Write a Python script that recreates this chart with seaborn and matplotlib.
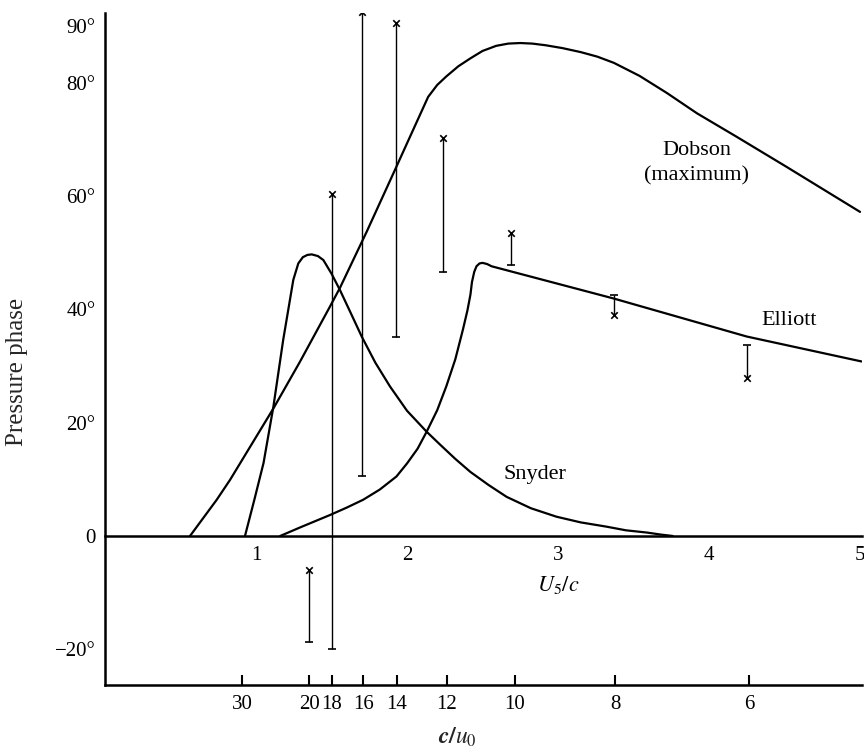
import numpy as np
import pandas as pd
import matplotlib
matplotlib.use("Agg")
import matplotlib.pyplot as plt
import seaborn as sns

# ---- Data (x = U5/c, y = pressure phase, degrees) ----
dobson_x = [0.563, 0.74, 0.828, 1.115, 1.29, 1.49, 1.556, 1.733, 1.92, 2.0, 2.14, 2.20, 2.26, 2.34, 2.42, 2.50, 2.59, 2.67, 2.75, 2.83, 2.92, 3.03, 3.15, 3.26, 3.37, 3.54, 3.72, 3.92, 4.18, 4.51, 5.0]
dobson_y = [0.0, 6.4, 9.9, 22.5, 30.7, 40.5, 43.8, 53.7, 64.6, 69.3, 77.5, 79.6, 81.1, 82.9, 84.3, 85.6, 86.5, 86.9, 87.0, 86.9, 86.6, 86.1, 85.4, 84.6, 83.5, 81.2, 78.2, 74.6, 70.5, 65.2, 57.2]

snyder_x = [0.927, 0.99, 1.05, 1.115, 1.18, 1.247, 1.28, 1.31, 1.34, 1.369, 1.41, 1.446, 1.50, 1.556, 1.63, 1.70, 1.79, 1.887, 2.0, 2.13, 2.22, 2.32, 2.42, 2.54, 2.66, 2.82, 2.99, 3.15, 3.32, 3.45, 3.59, 3.68, 3.76]
snyder_y = [0.0, 6.5, 12.9, 22.8, 34.6, 45.2, 48.1, 49.2, 49.6, 49.7, 49.4, 48.7, 46.3, 43.4, 39.2, 35.2, 30.6, 26.4, 22.1, 18.4, 16.1, 13.6, 11.3, 9.0, 6.9, 4.9, 3.4, 2.4, 1.65, 1.0, 0.6, 0.25, 0.0]

elliott_x = [1.16, 1.30, 1.49, 1.60, 1.71, 1.82, 1.93, 2.0, 2.07, 2.13, 2.20, 2.26, 2.32, 2.37, 2.40, 2.42, 2.43, 2.445, 2.46, 2.48, 2.50, 2.53, 2.56, 3.37, 4.25, 5.01]
elliott_y = [0.0, 1.6, 3.7, 5.0, 6.4, 8.2, 10.5, 12.8, 15.4, 18.4, 22.2, 26.4, 31.2, 36.4, 39.8, 42.6, 44.8, 46.6, 47.6, 48.1, 48.2, 48.0, 47.6, 41.9, 35.2, 30.8]

# Observations: vertical ranges with an 'x' end and a '+' end
obs_x = [1.351, 1.50, 1.70, 1.93, 2.24, 2.69, 3.37, 4.25]
obs_xend = [-6.0, 60.3, 92.5, 90.6, 70.3, 53.4, 39.0, 27.8]
obs_plusend = [-18.7, -20.0, 10.5, 35.2, 46.6, 47.8, 42.5, 33.7]

# Axes ticks
us_ticks = [1, 2, 3, 4, 5]
us_labels = ["1", "2", "3", "4", "5"]
cu_pos = [0.907, 1.351, 1.503, 1.709, 1.934, 2.265, 2.715, 3.377, 4.265]
cu_labels = ["30", "20", "18", "16", "14", "12", "10", "8", "6"]
y_ticks = [90, 80, 60, 40, 20, 0, -20]
y_labels = ["90°", "80°", "60°", "40°", "20°", "0", "\u221220°"]

sns.set_style("white")
plt.rcParams["font.family"] = ["Liberation Serif", "DejaVu Serif"]
plt.rcParams["mathtext.fontset"] = "stix"
plt.rcParams["lines.solid_joinstyle"] = "round"

W, H = 864, 754
fig = plt.figure(figsize=(W / 100, H / 100), dpi=100)
ax = fig.add_axes([105 / W, (H - 685) / H, (862 - 105) / W, (685 - 13) / H])

curves = pd.concat([
    pd.DataFrame({"x": dobson_x, "y": dobson_y, "model": "Dobson"}),
    pd.DataFrame({"x": snyder_x, "y": snyder_y, "model": "Snyder"}),
    pd.DataFrame({"x": elliott_x, "y": elliott_y, "model": "Elliott"}),
])
sns.lineplot(data=curves, x="x", y="y", units="model", estimator=None, sort=False,
             color="black", lw=1.6, ax=ax, legend=False)

obs = pd.DataFrame({"x": obs_x, "xend": obs_xend, "pend": obs_plusend})
ax.vlines(obs["x"], obs["pend"], obs["xend"], color="black", lw=1.0)
sns.scatterplot(data=obs, x="x", y="xend", marker="x", s=22, color="black",
                linewidth=1.2, ax=ax, legend=False)
sns.scatterplot(data=obs, x="x", y="pend", marker="_", s=40, color="black",
                linewidth=1.2, ax=ax, legend=False)

ax.set_xlim(0, 5.013)
ax.set_ylim(-26.3, 92.3)
ax.set_xlabel("")
ax.set_ylabel("")

for s in ["top", "right"]:
    ax.spines[s].set_visible(False)
ax.spines["bottom"].set_position(("data", 0))
ax.spines["bottom"].set_linewidth(1.8)
ax.spines["left"].set_linewidth(1.8)
for s in ["bottom", "left"]:
    ax.spines[s].set_color("black")

ax.set_xticks(us_ticks, us_labels)
ax.set_yticks(y_ticks, y_labels)
ax.tick_params(axis="x", direction="in", length=6, width=1.5, pad=7, labelsize=15, colors="black")
ax.tick_params(axis="y", direction="in", length=9, width=1.8, pad=7, labelsize=15, colors="black")

sec = ax.secondary_xaxis("bottom")
sec.set_xticks(cu_pos, cu_labels)
sec.tick_params(direction="in", length=7, width=1.5, pad=7, labelsize=15, colors="black")
sec.spines["bottom"].set_linewidth(1.8)
sec.spines["bottom"].set_color("black")

txt = dict(fontsize=16, color="black", ha="center", va="center")
ax.text(3.92, 68.1, "Dobson", **txt)
ax.text(3.92, 63.6, "(maximum)", **txt)
ax.text(4.53, 38.1, "Elliott", **txt)
ax.text(2.85, 10.8, "Snyder", **txt)
ax.text(3.0, -8.7, r"$U_5/c$", **txt)

fig.text(457 / W, 1 - 737 / H, r"$\boldsymbol{c/u_0}$", fontsize=17, ha="center", va="center")
fig.text(17 / W, 1 - 372 / H, "Pressure phase", rotation=90, fontsize=18,
         ha="center", va="center")

fig.savefig("out.png", dpi=100)
